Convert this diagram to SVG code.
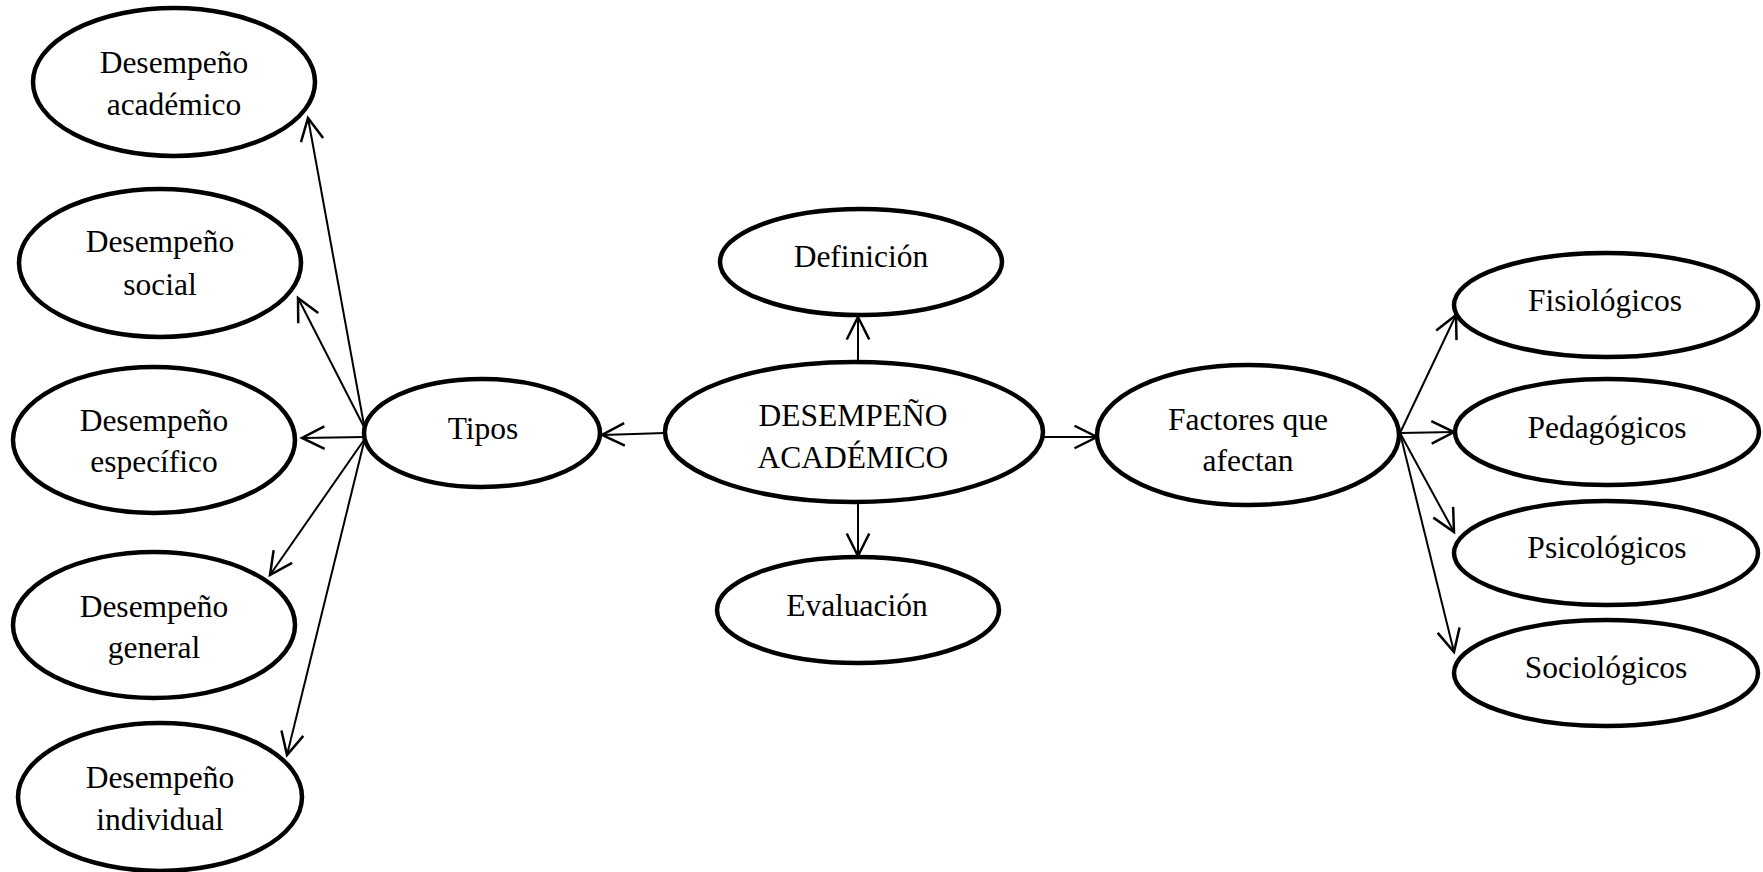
<svg xmlns="http://www.w3.org/2000/svg" width="1763" height="872" viewBox="0 0 1763 872">
<style>
.n ellipse{fill:#fff;stroke:#000;stroke-width:4.5}
.n text{font-family:"Liberation Serif","Times New Roman",serif;font-size:31.5px;fill:#000;text-anchor:middle}
.c line{stroke:#000;stroke-width:2;fill:none}
</style>
<defs>
<marker id="ah" markerUnits="userSpaceOnUse" markerWidth="30" markerHeight="30" viewBox="-20 -12 24 24" refX="0" refY="0" orient="auto">
<path d="M-18,-9 L0,0 L-18,9" fill="none" stroke="#000" stroke-width="2"/>
</marker>
</defs>
<rect width="1763" height="872" fill="#fff"/>
<g class="c" id="connectors">
<line x1="364" y1="425" x2="308" y2="118" marker-end="url(#ah)"/>
<line x1="364" y1="427" x2="298" y2="298" marker-end="url(#ah)"/>
<line x1="365" y1="437" x2="302" y2="438" marker-end="url(#ah)"/>
<line x1="364" y1="440" x2="270" y2="575" marker-end="url(#ah)"/>
<line x1="364" y1="442" x2="287" y2="755" marker-end="url(#ah)"/>
<line x1="665" y1="433" x2="602" y2="435" marker-end="url(#ah)"/>
<line x1="858" y1="363" x2="858" y2="317" marker-end="url(#ah)"/>
<line x1="858" y1="502" x2="858" y2="556" marker-end="url(#ah)"/>
<line x1="1043" y1="437" x2="1097" y2="437" marker-end="url(#ah)"/>
<line x1="1400" y1="433" x2="1456" y2="315" marker-end="url(#ah)"/>
<line x1="1400" y1="433" x2="1454" y2="432" marker-end="url(#ah)"/>
<line x1="1400" y1="433" x2="1454" y2="532" marker-end="url(#ah)"/>
<line x1="1400" y1="433" x2="1454" y2="652" marker-end="url(#ah)"/>
</g>
<g class="n" id="n-academico"><ellipse cx="174" cy="82" rx="141" ry="74"/><text x="174" y="73">Desempeño</text><text x="174" y="115">académico</text></g>
<g class="n" id="n-social"><ellipse cx="160" cy="263" rx="141" ry="74"/><text x="160" y="252">Desempeño</text><text x="160" y="295">social</text></g>
<g class="n" id="n-especifico"><ellipse cx="154" cy="440" rx="141" ry="73"/><text x="154" y="431">Desempeño</text><text x="154" y="472">específico</text></g>
<g class="n" id="n-general"><ellipse cx="154" cy="625" rx="141" ry="73"/><text x="154" y="617">Desempeño</text><text x="154" y="658">general</text></g>
<g class="n" id="n-individual"><ellipse cx="160" cy="797" rx="142" ry="74"/><text x="160" y="788">Desempeño</text><text x="160" y="830">individual</text></g>
<g class="n" id="n-tipos"><ellipse cx="482" cy="433" rx="118" ry="54"/><text x="483" y="439">Tipos</text></g>
<g class="n" id="n-center"><ellipse cx="854" cy="432" rx="189" ry="70"/><text x="853" y="426">DESEMPEÑO</text><text x="853" y="468">ACADÉMICO</text></g>
<g class="n" id="n-definicion"><ellipse cx="861" cy="262" rx="141" ry="53"/><text x="861" y="267">Definición</text></g>
<g class="n" id="n-evaluacion"><ellipse cx="858" cy="610" rx="141" ry="53"/><text x="857" y="616">Evaluación</text></g>
<g class="n" id="n-factores"><ellipse cx="1248" cy="435" rx="151" ry="70"/><text x="1248" y="430">Factores que</text><text x="1248" y="471">afectan</text></g>
<g class="n" id="n-fisiologicos"><ellipse cx="1606" cy="305" rx="152" ry="52"/><text x="1605" y="311">Fisiológicos</text></g>
<g class="n" id="n-pedagogicos"><ellipse cx="1607" cy="432" rx="152" ry="53"/><text x="1607" y="438">Pedagógicos</text></g>
<g class="n" id="n-psicologicos"><ellipse cx="1606" cy="553" rx="152" ry="52"/><text x="1607" y="558">Psicológicos</text></g>
<g class="n" id="n-sociologicos"><ellipse cx="1606" cy="673" rx="152" ry="53"/><text x="1606" y="678">Sociológicos</text></g>
</svg>
